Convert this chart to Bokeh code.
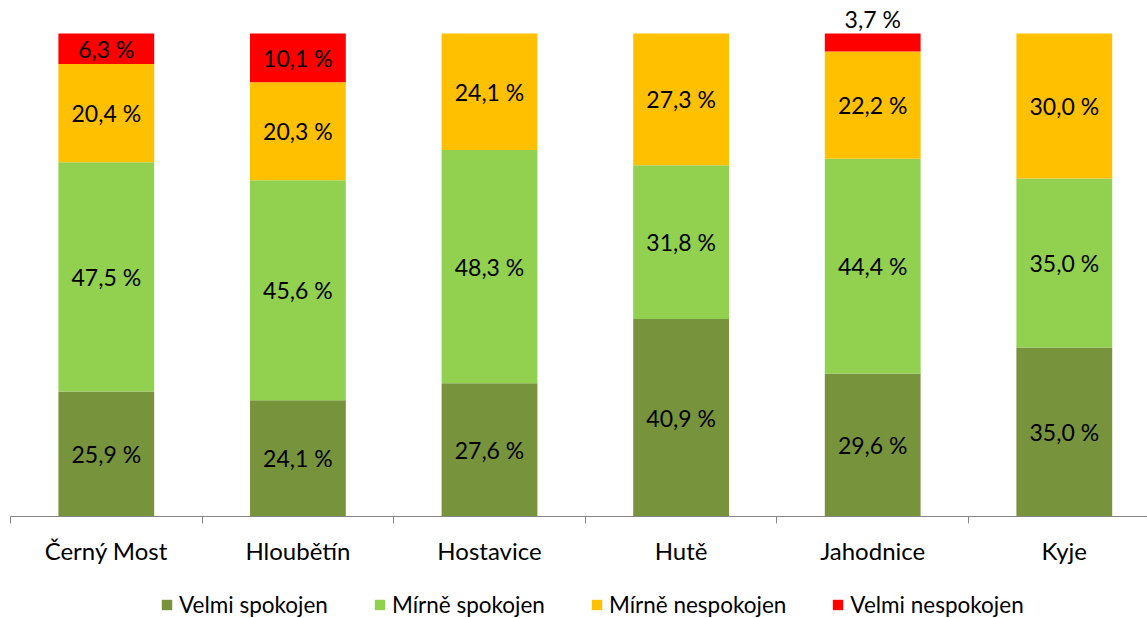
from bokeh.plotting import figure
from bokeh.layouts import column
from bokeh.models import ColumnDataSource, FixedTicker, LinearAxis, Legend, LegendItem, Range1d
from bokeh.core.properties import value
from bokeh.embed import file_html
from bokeh.resources import INLINE

categories = ["Černý Most", "Hloubětín", "Hostavice", "Hutě", "Jahodnice", "Kyje"]
series = ["Velmi spokojen", "Mírně spokojen", "Mírně nespokojen", "Velmi nespokojen"]
velmi_spokojen = [25.9, 24.1, 27.6, 40.9, 29.6, 35.0]
mirne_spokojen = [47.5, 45.6, 48.3, 31.8, 44.4, 35.0]
mirne_nespokojen = [20.4, 20.3, 24.1, 27.3, 22.2, 30.0]
velmi_nespokojen = [6.3, 10.1, 0.0, 0.0, 3.7, 0.0]
colors = ["#77933C", "#92D050", "#FFC000", "#FF0000"]

FONT = "Lato"
vals = [velmi_spokojen, mirne_spokojen, mirne_nespokojen, velmi_nespokojen]
n = len(categories)
xs = [i + 0.5 for i in range(n)]
totals = [sum(v[i] for v in vals) for i in range(n)]

data = {"x": xs}
keys = ["s0", "s1", "s2", "s3"]
for k, v in zip(keys, vals):
    data[k] = [v[i] / totals[i] for i in range(n)]
src = ColumnDataSource(data)

p = figure(frame_width=1137, frame_height=508, output_backend="svg", toolbar_location=None,
           x_range=Range1d(0, 1137 / 191.6), y_range=Range1d(0, 1.0518),
           x_axis_location=None, y_axis_location=None,
           min_border_left=10, min_border_right=0, min_border_top=8, min_border_bottom=70)
p.outline_line_color = None
p.xgrid.visible = False
p.ygrid.visible = False

rends = p.vbar_stack(keys, x="x", width=0.5, color=colors, line_color=None, source=src)

# labels
lx, ly, lt = [], [], []
ox, oy, ot = [], [], []
for i in range(n):
    cum = 0.0
    for j, v in enumerate(vals):
        frac = v[i] / totals[i]
        if v[i] > 0:
            txt = f"{v[i]:.1f}".replace(".", ",") + " %"
            if v[i] < 5 and j == len(vals) - 1:
                ox.append(xs[i]); oy.append(cum + frac); ot.append(txt)
            else:
                lx.append(xs[i]); ly.append(cum + frac / 2); lt.append(txt)
        cum += frac
p.text(x=lx, y=ly, text=lt, text_align="center", text_baseline="middle",
       text_font=value(FONT), text_font_size="23px", text_color="#000000")
p.text(x=ox, y=oy, text=ot, text_align="center", text_baseline="bottom", y_offset=-1,
       text_font=value(FONT), text_font_size="23px", text_color="#000000")

ax = LinearAxis(ticker=FixedTicker(ticks=xs, minor_ticks=list(range(n + 1))))
ax.major_label_overrides = {x: c for x, c in zip(xs, categories)}
ax.major_tick_out = 0
ax.major_tick_in = 0
ax.minor_tick_out = 7
ax.minor_tick_in = 0
ax.axis_line_color = "#868686"
ax.minor_tick_line_color = "#868686"
ax.major_label_standoff = 12
ax.major_label_text_font = FONT
ax.major_label_text_font_size = "24px"
ax.major_label_text_color = "#000000"
p.add_layout(ax, "below")

# legend strip: same stacked renderers, with a view range that shows no bars
p2 = figure(frame_width=1137, frame_height=32, output_backend="svg", toolbar_location=None,
            x_range=Range1d(50, 51), y_range=Range1d(50, 51),
            x_axis_location=None, y_axis_location=None,
            min_border_left=10, min_border_right=0, min_border_top=0, min_border_bottom=0)
p2.outline_line_color = None
p2.xgrid.visible = False
p2.ygrid.visible = False
rends2 = p2.vbar_stack(keys, x="x", width=0.5, color=colors, line_color=None, source=src)

legend = Legend(items=[LegendItem(label=s, renderers=[r]) for s, r in zip(series, rends2)],
                orientation="horizontal", location=(150, 0),
                label_text_font=FONT, label_text_font_size="22.5px", label_text_color="#000000",
                glyph_width=13, glyph_height=13, spacing=45, label_standoff=6,
                border_line_color=None, background_fill_alpha=0, padding=0, margin=0)
p2.add_layout(legend, "center")

layout = column(p, p2, spacing=0)
open("out.html", "w").write(file_html(layout, INLINE))
